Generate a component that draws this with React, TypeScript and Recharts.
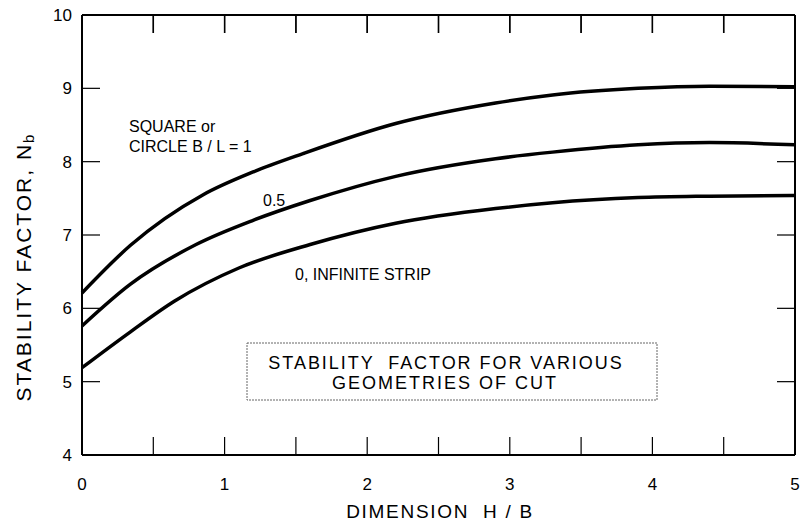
import React from 'react';
import { LineChart, Line, XAxis, YAxis } from 'recharts';

// H/B positions and stability factor Nb
const squareX = [0, 0.34, 0.85, 1.2, 1.55, 2.2, 2.9, 3.3, 3.9, 4.4, 5];
const squareNb = [6.21, 6.86, 7.55, 7.86, 8.11, 8.52, 8.8, 8.91, 9.0, 9.03, 9.02];

const halfX = [0, 0.34, 0.8, 1.2, 1.6, 2.2, 2.9, 3.3, 3.9, 4.4, 5];
const halfNb = [5.76, 6.33, 6.87, 7.2, 7.47, 7.8, 8.04, 8.13, 8.23, 8.26, 8.23];

const stripX = [0, 0.34, 0.65, 1.1, 1.6, 2.2, 2.9, 3.3, 3.9, 4.4, 5];
const stripNb = [5.19, 5.68, 6.1, 6.55, 6.87, 7.16, 7.36, 7.44, 7.51, 7.53, 7.54];

const xTicks = [0, 0.5, 1, 1.5, 2, 2.5, 3, 3.5, 4, 4.5, 5];
const yTicks = [4, 5, 6, 7, 8, 9, 10];

const toPoints = (xs: number[], ys: number[]) => xs.map((x, i) => ({ x, y: ys[i] }));

const FONT = '"Liberation Sans", Arial, Helvetica, sans-serif';
const W = 800;
const H = 525;
const PLOT_LEFT = 82;
const PLOT_RIGHT = 795;
const PLOT_TOP = 15;

// drop the default body margin so the chart fills the whole window
document.body.style.margin = '0';

const intLabel = (v: number) => (Number.isInteger(v) ? String(v) : '');
const blank = () => '';

export default function App() {
  const tickStyle = { fill: '#000', fontSize: 17, fontFamily: FONT };
  const axisLine = { stroke: '#000', strokeWidth: 2 };
  const tickLine = { stroke: '#000', strokeWidth: 1.2 };
  const square = toPoints(squareX, squareNb);
  const topTickX = (v: number) => PLOT_LEFT + (v / 5) * (PLOT_RIGHT - PLOT_LEFT);

  return (
    <div style={{ position: 'relative', width: W, height: H, overflow: 'hidden' }}>
      <LineChart width={W} height={H} margin={{ top: 15, right: 4, bottom: 0, left: 0 }}>
        <XAxis
          dataKey="x"
          type="number"
          domain={[0, 5]}
          ticks={xTicks}
          interval={0}
          height={70}
          tickSize={-18}
          tickMargin={41}
          tickFormatter={intLabel}
          tick={tickStyle}
          axisLine={axisLine}
          tickLine={tickLine}
        />
        <XAxis
          xAxisId="top"
          orientation="top"
          mirror
          dataKey="x"
          type="number"
          domain={[0, 5]}
          ticks={xTicks}
          interval={0}
          height={1}
          tickSize={18}
          tickFormatter={blank}
          axisLine={axisLine}
          tickLine={tickLine}
        />
        <YAxis
          type="number"
          domain={[4, 10]}
          ticks={yTicks}
          interval={0}
          width={82}
          tickSize={-18}
          tickMargin={28}
          tick={tickStyle}
          axisLine={axisLine}
          tickLine={tickLine}
        />
        <YAxis
          yAxisId="right"
          orientation="right"
          type="number"
          domain={[4, 10]}
          ticks={yTicks}
          interval={0}
          width={1}
          tickSize={-18}
          tickFormatter={blank}
          axisLine={axisLine}
          tickLine={tickLine}
        />
        {/* invisible series so the top and right frame axes get drawn */}
        <Line
          xAxisId="top"
          yAxisId="right"
          data={square}
          dataKey="y"
          stroke="none"
          dot={false}
          activeDot={false}
          isAnimationActive={false}
        />
        <Line
          data={square}
          dataKey="y"
          type="monotone"
          stroke="#000"
          strokeWidth={3.5}
          dot={false}
          isAnimationActive={false}
        />
        <Line
          data={toPoints(halfX, halfNb)}
          dataKey="y"
          type="monotone"
          stroke="#000"
          strokeWidth={3.5}
          dot={false}
          isAnimationActive={false}
        />
        <Line
          data={toPoints(stripX, stripNb)}
          dataKey="y"
          type="monotone"
          stroke="#000"
          strokeWidth={3.5}
          dot={false}
          isAnimationActive={false}
        />
      </LineChart>

      <svg
        width={W}
        height={H}
        style={{ position: 'absolute', left: 0, top: 0, pointerEvents: 'none' }}
        fontFamily={FONT}
        fill="#000"
      >
        {/* inward ticks hanging from the top frame */}
        {xTicks.slice(1, -1).map((v) => (
          <line key={v} x1={topTickX(v)} x2={topTickX(v)} y1={PLOT_TOP} y2={PLOT_TOP + 18} stroke="#000" strokeWidth={1.5} />
        ))}

        <text x={23} y={267} fontSize={21} letterSpacing={2} textAnchor="middle" dominantBaseline="central" transform="rotate(-90 23 267)">
          STABILITY FACTOR, N
          <tspan fontSize={15} dy={5}>b</tspan>
        </text>
        <text x={440} y={518} fontSize={19} letterSpacing={1.7} textAnchor="middle" style={{ whiteSpace: 'pre' }}>
          {'DIMENSION  H / B'}
        </text>

        <text x={129} y={132} fontSize={16}>SQUARE or</text>
        <text x={129} y={152} fontSize={16}>CIRCLE B / L = 1</text>
        <text x={263} y={206} fontSize={16}>0.5</text>
        <text x={295} y={280} fontSize={16}>0, INFINITE STRIP</text>

        <rect x={247} y={343} width={410} height={57} fill="none" stroke="#666" strokeWidth={1} strokeDasharray="2 1" />
        <text x={446} y={369} fontSize={18} letterSpacing={1.95} textAnchor="middle" style={{ whiteSpace: 'pre' }}>
          {'STABILITY  FACTOR FOR VARIOUS'}
        </text>
        <text x={445} y={389} fontSize={18} letterSpacing={2} textAnchor="middle">
          GEOMETRIES OF CUT
        </text>
      </svg>
    </div>
  );
}
